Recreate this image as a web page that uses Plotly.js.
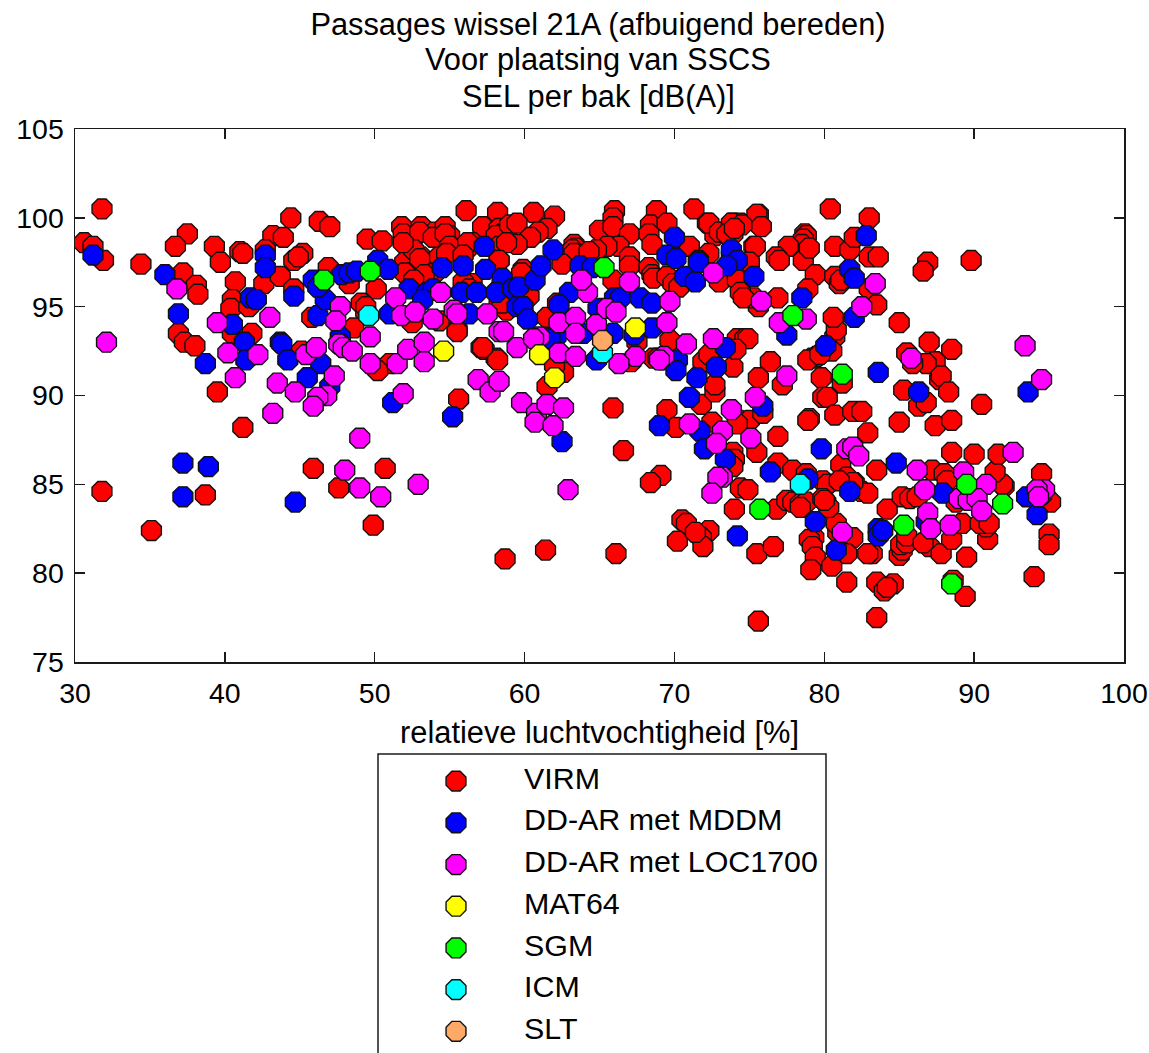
<!DOCTYPE html>
<html><head><meta charset="utf-8">
<script src="https://cdn.plot.ly/plotly-3.0.1.min.js"></script>
<style>html,body{margin:0;padding:0;background:#fff;overflow:hidden}</style>
</head><body><div id="chart" style="width:1149px;height:1053px"></div>
<script>
const titleLines = ["Passages wissel 21A (afbuigend bereden)","Voor plaatsing van SSCS","SEL per bak [dB(A)]"];
const xLabel = "relatieve luchtvochtigheid [%]";
const seriesNames = ["VIRM","DD-AR met MDDM","DD-AR met LOC1700","MAT64","SGM","ICM","SLT"];
const seriesColors = ["#ff0000","#0000ff","#ff00ff","#ffff00","#00ff00","#00ffff","#ffa966"];
const xTicks = [30,40,50,60,70,80,90,100];
const yTicks = [75,80,85,90,95,100,105];

const virm = [[31.8,100.5],[30.6,98.6],[31.2,98.4],[31.9,97.6],[34.4,97.4],[37.5,99.1],[36.7,98.4],[37.2,96.9],[38.1,96.2],[38.2,95.7],[36.9,93.5],[37.3,93],[38,92.8],[39.5,90.2],[39.3,98.4],[39.7,97.5],[41,98.1],[41.2,98],[40.7,96.4],[40.5,95.4],[40.4,94.9],[41.6,95],[41.8,93.5],[40.5,93.5],[41.2,88.2],[44.4,100],[43.2,99],[43.9,98.9],[42.7,98.2],[42.6,96.3],[43.7,96.7],[44.6,97.6],[45.2,98],[44.9,97.8],[44.6,96],[46.3,99.8],[47,99.5],[46.9,97.2],[48.3,96.3],[49.5,98.8],[50.5,98.7],[50.1,96],[49.1,95.2],[49.4,94.7],[48.6,93.8],[51.8,99.5],[52.3,98.8],[51,91.8],[50.2,91.4],[45.8,94.4],[45.1,92.5],
[53.1,99.5],[52.5,98.8],[54,99.2],[54.7,99.5],[55,99],[54.8,98.6],[56.1,100.4],[58.2,100.3],[57.2,99.5],[58.3,99.4],[58.5,99.1],[58.8,99.3],[58.1,99],[59,99.6],[56.5,98.6],[56.1,98.2],[58.3,98.4],[52,97.5],[53.1,97.8],[52.5,96.9],[53,96.7],[53.5,96.9],[54,96.9],[54.3,97.8],[58.3,97.6],[49.4,95],[55.5,93.7],[52.5,94.1],[54.3,94.2],[56.5,96.3],[58.3,95.1],[58.8,94.8],[57.1,92.7],[57.3,92.6],[58.1,92.1],[58.2,92],
[60.6,100.3],[62,100.1],[59.5,99.7],[61.5,99.4],[60.9,99.2],[60.4,98.9],[59.5,98.5],[58.8,98.6],[63.3,98.5],[63.4,98.3],[63.2,98.2],[63.3,98],[62.5,97.4],[66,100.4],[65.9,100],[65,99.3],[65.9,99.5],[67,99.1],[66.3,98.4],[65.5,98.4],[64.8,98.2],[64.3,98.1],[67,97.8],[68.8,100.4],[68.4,99.6],[69.5,99.7],[68.3,99.1],[68.5,98.5],[71.3,100.5],[72.2,99.7],[72.7,99],[73.9,99.7],[74.4,99.7],[73.3,99.2],[73.9,99.1],[75.6,100.2],[75.3,98.4],[71,98.4],[72.3,98],[67,97.3],[68.3,97.2],[68.5,96.8],[68.6,96.6],[69.5,96.7],[69.9,96.3],[70.3,96.1],[65.9,96.5],[73,96.4],[74.4,96.1],[74.2,96.5],[61.5,94.4],[59.9,97.1],[62.2,95.2],[60.3,95.6],[58.5,95.2],[55.5,93.6],[57.2,92.7],[61.5,90.5],[62.6,91.3],[62,91.7],[67.5,93],[69.7,93.1],[68.6,92.1],[69.2,92],[67.1,91.9],[65.9,89.3],[55.6,89.8],[66.6,86.9],
[69.5,89.2],[70.1,88.2],[69.1,85.5],[68.4,85.1],[71.8,89.5],[72.7,90.2],[72.7,90.6],[72.5,88.5],[71.9,91.9],[72.3,92.3],[73.9,91.6],[74.2,93.2],[74.7,93.2],[74.9,93.2],[74.1,92.6],[68.9,92.1],[76.4,91.9],[75.6,91],[77.2,90.6],[79,88.7],[76.9,87.7],[75.5,86.8],[74.3,88.6],[75,88.6],[74.2,88.4],[75.9,89],[73.9,86.8],[74,86.4],[73.9,86],[79.8,91],[81.2,90.7],[79.9,89.9],[80.2,89.9],[80.7,88.9],[81.9,89.1],[82.5,89.1],[82.9,87.9],[81.1,86.1],[83.5,85.8],[80.7,93.3],[80.8,93.7],[79.2,92.1],[79.5,92.2],[80.5,92.5],[74,83.6],[76.8,83.6],[74.4,84.8],[74.9,84.7],[76.9,86.2],[77.9,85.8],[78.8,85.6],[79.9,85.2],[80.2,85],[81.5,85.4],[82,85.1],[82.5,84.6],[82.9,84.5],[77.5,84.1],[77.9,84],[78.4,83.9],[78.8,84],[79.9,84.2],[80.1,84],
[70.5,83],[70.8,82.8],[70.2,81.8],[72.3,82.4],[71.8,82],[71.9,81.5],[71.4,82.3],[75.5,81.1],[76.6,81.5],[75.6,77.3],[78.4,83.7],[79.3,82],[79,81.9],[79.2,81.5],[79.4,80.9],[79.1,80.2],[80.5,80.4],[80.9,82.3],[81.9,82],[81.5,81.1],[81.5,79.5],[80.8,82.8],[80.3,83.7],[80,84.1],[83.5,79.5],[84,79],[84.6,79.4],[84.2,79.2],[83.5,77.5],[83.2,81.1],[82.9,81.1],[85,81],[85.2,81.3],[85.1,81.6],[85.5,81.7],[85.5,82.1],[84.2,83.6],[85.2,84.3],[85.7,84.2],[86.2,84.3],[87,81.5],[86.6,81.7],[87.8,81.1],[88.5,81.9],[89.5,80.9],[89.2,82.8],[88.6,79.6],[89.4,78.7],[90.9,81.9],[90.8,82.6],[90.4,82.8],[91,82.8],[92,84.9],[91.9,85],[91.4,85.7],[91.6,86.7],[90,86.7],[88.5,86.8],[87.2,85.8],[88,85.6],[88.2,85.2],[88.8,84],[94.5,85.6],[94,79.8],[95,82.2],[95,81.6],[95.1,84],[81.9,85.1],[81,85.2],
[80.4,100.5],[83,100],[75.5,100.2],[75.8,99.5],[72.3,99.7],[73,99.2],[73.8,99.7],[74.5,99.6],[73.5,99.1],[74,99.4],[75.4,98.4],[78.7,99.1],[78.8,99],[78.6,98.8],[78.5,98.5],[77.6,98.4],[76.8,97.8],[77,97.6],[78.6,97.6],[79,98.3],[80.7,98.4],[81.7,98.2],[82,98.9],[83,97.8],[83.6,97.8],[79.4,96.8],[78.9,96],[80.7,96.7],[81,96.3],[81.1,96.5],[83,96],[83.5,95.1],[76.9,95.5],[75.6,95],[75.3,95.5],[74.4,95.8],[74.6,95.5],[75,97.5],[85,94.1],[80.6,94.4],[78.9,92],[79.7,92.3],[86.9,97.5],[86.6,97],[87,93],[85.5,92.4],[87.2,91.8],[87.4,91.9],[86.8,91.8],[85.9,91.8],[85.3,90.3],[86.3,89.4],[86.8,89.6],[87.7,90.9],[85,88.5],[78.9,88.6],[88.5,92.6],[87.8,91.1],[88.3,90.2],[87.4,88.3],[88.5,88.6],[90.5,89.5],[89.8,97.6],
[31.8,84.6],[35.1,82.4],[38.7,84.4],[45.9,85.9],[47.6,84.8],[50.7,85.9],[49.9,82.7],[58.7,80.8],[61.4,81.3],[66.1,81.1],
[51.9,99.1],[53,99.2],[53.9,98.9],[54.7,99.1],[55,98.4],[52.6,98.2],[51.9,98.6],[54.8,98],[56.2,98.6],[55.9,97.9],[53,97.7],[52,96.9],[53,96.6],[53.3,96.8],[52.6,96.5],[58.3,97.6],[59.8,96.9],[55.9,96.4],[56.3,96]];
const mddm = [[31.2,97.9],[36,96.8],[36.9,94.6],[42.7,97.9],[42.7,97.2],[41.7,95.5],[42.1,95.4],[44.6,95.6],[40.5,94],[41.3,93],[41.4,92],[38.7,91.8],[43.7,93],[43.8,92.9],[44.2,92],[46.4,91.8],[45.5,91],[47,90.5],[51.2,89.6],[46.2,94.5],[46.7,95.4],[45.9,96.5],[46.2,96.1],[47.7,93.3],[47.7,92.9],[47.8,96.8],[48.3,96.9],[48.8,97],[50.2,97.6],[50.9,97.1],[52.3,96],[57.3,98.4],[54.5,97.2],[55.9,97.3],[57.4,97.1],[58.5,96.6],[53.5,95.8],[53.9,96],[55.8,95.8],[56.8,95.8],[58.1,95.8],[56.3,94.6],[59.2,96],[53.2,95.4],[51,94.6],[59.5,95],[59.6,96.1],[60.7,96.5],[61.1,97.3],[61.9,98.2],[59.9,95],[60.2,94.3],[63.7,97.3],[64.5,97.2],[63,95.8],[62.3,95.1],[64.9,94.9],[66,95.5],[66.4,95.5],[67.7,95.5],[68.5,95.2],[70,98.9],[69.5,97.9],[70.1,97.7],[71.6,97.6],[70.7,96.7],[71.4,96.4],[68.5,93.8],[65.9,93.5],[67.3,93.4],[64.8,92],[63.9,93.5],[62.1,93.3],[61.7,93.2],[70.2,92],[71.5,91],[72.8,91.6],[73.4,92.7],[73.8,97.9],[73.8,98.2],[71.6,97.5],[74.2,97.6],[73.5,97.3],[75.3,96.7],[82.8,99],[81.7,97.1],[82,96.6],[78.5,95.5],[77.5,93.4],[82,94.4],[80.1,92.8],[83.6,91.3],[86.3,90.2],[75.9,89.4],[93.6,90.2],[70.1,91.4],[71,89.9],[69,88.3],[71.7,88],[72,87],[73.4,86.4],[79.8,87],[76.4,85.7],[81.7,84.6],[78.9,85.3],[74.2,82.1],[83.6,82.5],[83.6,82.1],[79.4,82.9],[80.8,81.3],[84.8,86.2],[87.9,84.5],[93.5,84.3],[94.2,83.3],[83.9,82.4],[86.8,82.9],[37.2,86.2],[37.2,84.3],[38.9,86],[44.7,84],[55.2,88.8],[62.5,87.4]];
const loc1700 = [[32.1,93],[36.8,96],[39.5,94.1],[43,94.4],[40.2,92.4],[42.2,92.3],[40.7,91],[43.5,90.7],[44.7,90.2],[43.2,89],[45.4,92.3],[46.1,92.7],[47.3,91.1],[46.8,90],[46.2,89.9],[45.9,89.4],[47.7,95],[47.4,94.2],[47.6,92.9],[47.9,92.7],[48.5,92.5],[49.7,93.3],[49.7,91.8],[51.4,95.5],[51.8,94.5],[52.7,94.7],[51.5,91.8],[52.2,92.6],[51.9,90.1],[54.4,95.8],[53.9,94.3],[55.3,94.8],[55.5,94.6],[57.5,94.6],[58.3,93.6],[58.6,93.6],[53.3,93],[53.3,91.9],[56.9,90.9],[57.7,90.2],[58.3,90.8],[59.5,92.7],[61,93.3],[60.6,93.2],[62.3,92.4],[63.4,92.2],[62.3,94.1],[63.4,94.4],[63.4,93.5],[64.8,94],[65.5,94.9],[66.1,94.7],[64.2,95.8],[63.8,96.5],[67,96.4],[67.4,92.2],[66.3,91.8],[69.3,92.2],[69,92],[69.7,95.3],[69.5,94.1],[70.8,92.9],[72.6,96.9],[72.6,93.2],[59.8,89.6],[60.8,89],[60.7,88.5],[61.5,89.5],[62.6,89.3],[61.9,88.3],[73.8,89.2],[71,88.4],[73.2,88],[72.8,87.3],[75.1,87.6],[75.4,89.9],[83.4,96.3],[82.5,95],[75.8,95.3],[77,94.1],[78.8,94.3],[85.8,92.1],[77.5,91.1],[73.2,85.4],[72.9,85.4],[72.5,84.5],[81.5,87],[81.9,87.1],[82.3,86.6],[86.7,84.7],[86.2,85.8],[86.9,83.4],[87.1,82.5],[88.4,82.7],[89.3,85.7],[90.8,85],[89,84.2],[89.6,84.1],[90.2,84.2],[90.5,83.5],[92.6,86.8],[94.5,84.4],[94.7,84.7],[94.2,84.7],[94.3,84.3],[81.2,82.3],[93.4,92.8],[94.5,90.9],[49,87.6],[48,85.8],[49,84.8],[50.4,84.3],[52.9,85],[62.9,84.7]];
const mat64 = [[54.6,92.5],[61,92.3],[62,91],[67.4,93.8]];
const sgm = [[46.6,96.5],[49.7,97],[65.3,97.2],[77.9,94.5],[81.2,91.2],[75.7,83.6],[85.3,82.7],[89.5,85],[91.9,83.9],[88.5,79.4]];
const icm = [[49.6,94.5],[65.2,92.4],[78.4,85]];
const slt = [[65.2,93.1]];

const allSeries = [virm,mddm,loc1700,mat64,sgm,icm,slt];
const ink = "#1a1a1a";
const FONT = "Arial, 'Liberation Sans', sans-serif";
const TXT = 30.8;
const traces = allSeries.map((pts,i)=>({
  type:"scatter",mode:"markers",name:seriesNames[i],showlegend:false,
  x:pts.map(p=>p[0]),y:pts.map(p=>p[1]),
  marker:{symbol:"octagon",size:21.5,color:seriesColors[i],line:{color:"#111",width:1.4}}
}));
const rows = seriesNames.map((_,i)=>i);
traces.push({type:"scatter",mode:"markers",xaxis:"x2",yaxis:"y2",showlegend:false,
  x:rows.map(()=>78),y:rows,
  marker:{symbol:"octagon",size:21.5,color:seriesColors,line:{color:"#111",width:1.4}}});
traces.push({type:"scatter",mode:"text",xaxis:"x2",yaxis:"y2",showlegend:false,
  x:rows.map(()=>146),y:rows,text:seriesNames,textposition:"middle right",
  textfont:{family:FONT,size:30.4,color:"#000"},cliponaxis:false});

const W=1149,H=1053;
const axisCommon={showgrid:false,zeroline:false,showline:true,linecolor:ink,linewidth:1.5,mirror:"ticks",ticks:"inside",ticklen:10,tickwidth:1.5,tickcolor:ink,tickfont:{family:FONT,size:28.5,color:"#000"}};
const titleFont={family:FONT,size:TXT,color:"#000"};
const layout={width:W,height:H,margin:{l:0,r:0,t:0,b:0},paper_bgcolor:"#fff",plot_bgcolor:"#fff",showlegend:false,
  title:{text:titleLines[0],font:titleFont,x:598/W,xanchor:"center",xref:"paper",y:1-24/H,yanchor:"middle",yref:"paper"},
  annotations:[1,2].map((k,j)=>({text:titleLines[k],font:titleFont,showarrow:false,xref:"paper",yref:"paper",x:598/W,xanchor:"center",y:1-[59,96][j]/H,yanchor:"middle"})),
  xaxis:Object.assign({},axisCommon,{domain:[75/W,1124/W],range:[30,100],tickmode:"array",tickvals:xTicks,ticktext:xTicks.map(String),anchor:"y",ticklabelstandoff:5,
    title:{text:xLabel,font:titleFont,standoff:13}}),
  yaxis:Object.assign({},axisCommon,{domain:[1-662/H,1-129/H],range:[75,105],tickmode:"array",tickvals:yTicks,ticktext:yTicks.map(String),anchor:"x",ticklabelstandoff:4}),
  xaxis2:{domain:[378/W,826/W],range:[0,448],visible:false,anchor:"y2",fixedrange:true},
  yaxis2:{domain:[0,1-754/H],range:[(1053-754)/41.7-0.65,-0.65],visible:false,anchor:"x2",fixedrange:true},
  shapes:[{type:"rect",xref:"paper",yref:"paper",x0:378/W,x1:826/W,y0:-0.05,y1:1-754/H,line:{color:ink,width:1.5},fillcolor:"rgba(0,0,0,0)"}]
};
Plotly.newPlot("chart",traces,layout,{displayModeBar:false,staticPlot:true});
</script></body></html>
